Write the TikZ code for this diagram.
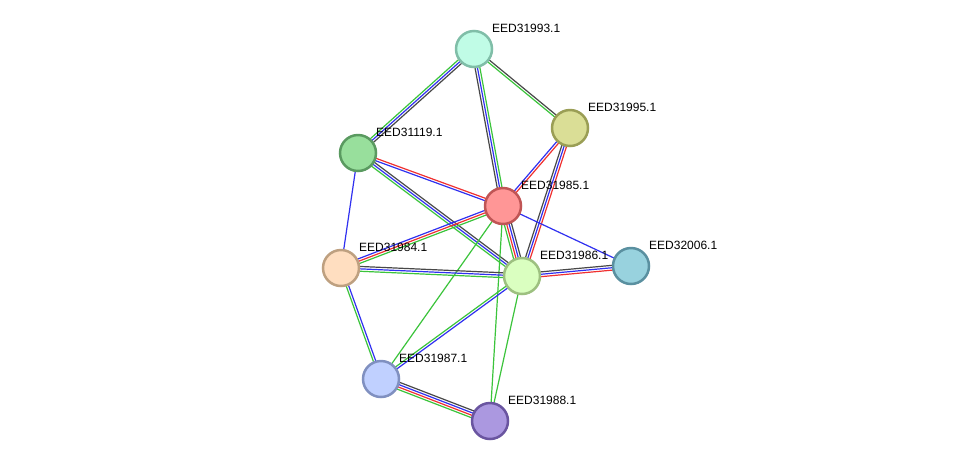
\documentclass[tikz,border=0pt]{standalone}
\usepackage{fontspec}
\setmainfont{Liberation Sans}
\usetikzlibrary{calc}
\pgfdeclarelayer{background}
\pgfsetlayers{background,main}
\definecolor{eg}{HTML}{3BC43B}
\definecolor{eb}{HTML}{3030F0}
\definecolor{er}{HTML}{F03030}
\definecolor{ek}{HTML}{484848}
\tikzset{
  prot/.style={circle, minimum size=36pt, inner sep=0pt, line width=2.5pt},
  lab/.style={anchor=west, font=\fontsize{12pt}{14pt}\selectfont, text=black, inner sep=0pt},
  edge/.style={line width=1.2pt}
}
\newcommand\eline[4]{\draw[edge,#4] ($(#1)!#3!90:(#2)$) -- ($(#2)!#3!-90:(#1)$);}
\begin{document}
\begin{tikzpicture}[x=1pt,y=-1pt]
\useasboundingbox (0,0) rectangle (976,467);
\node[prot, fill={rgb,255:red,192;green,252;blue,230}, draw={rgb,255:red,128;green,190;blue,168}] (n93) at (474,49) {};
\node[prot, fill={rgb,255:red,218;green,222;blue,150}, draw={rgb,255:red,154;green,158;blue,85}] (n95) at (570,128) {};
\node[prot, fill={rgb,255:red,152;green,223;blue,156}, draw={rgb,255:red,90;green,154;blue,96}] (n19) at (358,153) {};
\node[prot, fill={rgb,255:red,255;green,150;blue,150}, draw={rgb,255:red,192;green,85;blue,85}] (n85) at (503,206) {};
\node[prot, fill={rgb,255:red,255;green,222;blue,192}, draw={rgb,255:red,190;green,160;blue,128}] (n84) at (341,268) {};
\node[prot, fill={rgb,255:red,218;green,255;blue,192}, draw={rgb,255:red,157;green,192;blue,128}] (n86) at (522,276) {};
\node[prot, fill={rgb,255:red,152;green,210;blue,222}, draw={rgb,255:red,90;green,144;blue,160}] (n06) at (631,266) {};
\node[prot, fill={rgb,255:red,192;green,208;blue,255}, draw={rgb,255:red,128;green,144;blue,192}] (n87) at (381,379) {};
\node[prot, fill={rgb,255:red,171;green,152;blue,224}, draw={rgb,255:red,106;green,85;blue,160}] (n88) at (490,421) {};

\node[lab] (l93) at ($(n93)+(18,-21)$) {EED31993.1};
\node[lab] (l95) at ($(n95)+(18,-21)$) {EED31995.1};
\node[lab] (l19) at ($(n19)+(18,-21)$) {EED31119.1};
\node[lab] (l85) at ($(n85)+(18,-21)$) {EED31985.1};
\node[lab] (l84) at ($(n84)+(18,-21)$) {EED31984.1};
\node[lab] (l86) at ($(n86)+(18,-21)$) {EED31986.1};
\node[lab] (l06) at ($(n06)+(18,-21)$) {EED32006.1};
\node[lab] (l87) at ($(n87)+(18,-21)$) {EED31987.1};
\node[lab] (l88) at ($(n88)+(18,-21)$) {EED31988.1};

\begin{pgfonlayer}{background}
\fill[white] (0,0) rectangle (976,467);
% 31993 - 31119
\eline{n93}{n19}{-2.4pt}{eg}\eline{n93}{n19}{0pt}{eb}\eline{n93}{n19}{2.4pt}{ek}
% 31993 - 31985
\eline{n93}{n85}{-2.4pt}{ek}\eline{n93}{n85}{0pt}{eb}\eline{n93}{n85}{2.4pt}{eg}
% 31993 - 31995
\eline{n93}{n95}{1.2pt}{ek}\eline{n93}{n95}{-1.2pt}{eg}
% 31995 - 31985
\eline{n95}{n85}{1.2pt}{er}\eline{n95}{n85}{-1.2pt}{eb}
% 31995 - 31986
\eline{n95}{n86}{2.4pt}{er}\eline{n95}{n86}{0pt}{eb}\eline{n95}{n86}{-2.4pt}{ek}
% 31119 - 31985
\eline{n19}{n85}{1.2pt}{er}\eline{n19}{n85}{-1.2pt}{eb}
% 31119 - 31986
\eline{n19}{n86}{-2.4pt}{eg}\eline{n19}{n86}{0pt}{eb}\eline{n19}{n86}{2.4pt}{ek}
% 31119 - 31984
\eline{n19}{n84}{0pt}{eb}
% 31985 - 31984
\eline{n85}{n84}{2.4pt}{eg}\eline{n85}{n84}{0pt}{er}\eline{n85}{n84}{-2.4pt}{eb}
% 31985 - 31986
\eline{n85}{n86}{3.6pt}{ek}\eline{n85}{n86}{1.2pt}{eb}\eline{n85}{n86}{-1.2pt}{er}\eline{n85}{n86}{-3.6pt}{eg}
% 31985 - 32006
\eline{n85}{n06}{0pt}{eb}
% 31985 - 31987
\eline{n85}{n87}{0pt}{eg}
% 31985 - 31988
\eline{n85}{n88}{0pt}{eg}
% 31984 - 31986
\eline{n84}{n86}{2.4pt}{ek}\eline{n84}{n86}{0pt}{eb}\eline{n84}{n86}{-2.4pt}{eg}
% 31984 - 31987
\eline{n84}{n87}{1.2pt}{eb}\eline{n84}{n87}{-1.2pt}{eg}
% 31986 - 32006
\eline{n86}{n06}{2.4pt}{ek}\eline{n86}{n06}{0pt}{eb}\eline{n86}{n06}{-2.4pt}{er}
% 31986 - 31987
\eline{n86}{n87}{1.2pt}{eb}\eline{n86}{n87}{-1.2pt}{eg}
% 31986 - 31988
\eline{n86}{n88}{0pt}{eg}
% 31987 - 31988
\eline{n87}{n88}{3.6pt}{ek}\eline{n87}{n88}{1.2pt}{eb}\eline{n87}{n88}{-1.2pt}{er}\eline{n87}{n88}{-3.6pt}{eg}
\end{pgfonlayer}
\end{tikzpicture}
\end{document}
